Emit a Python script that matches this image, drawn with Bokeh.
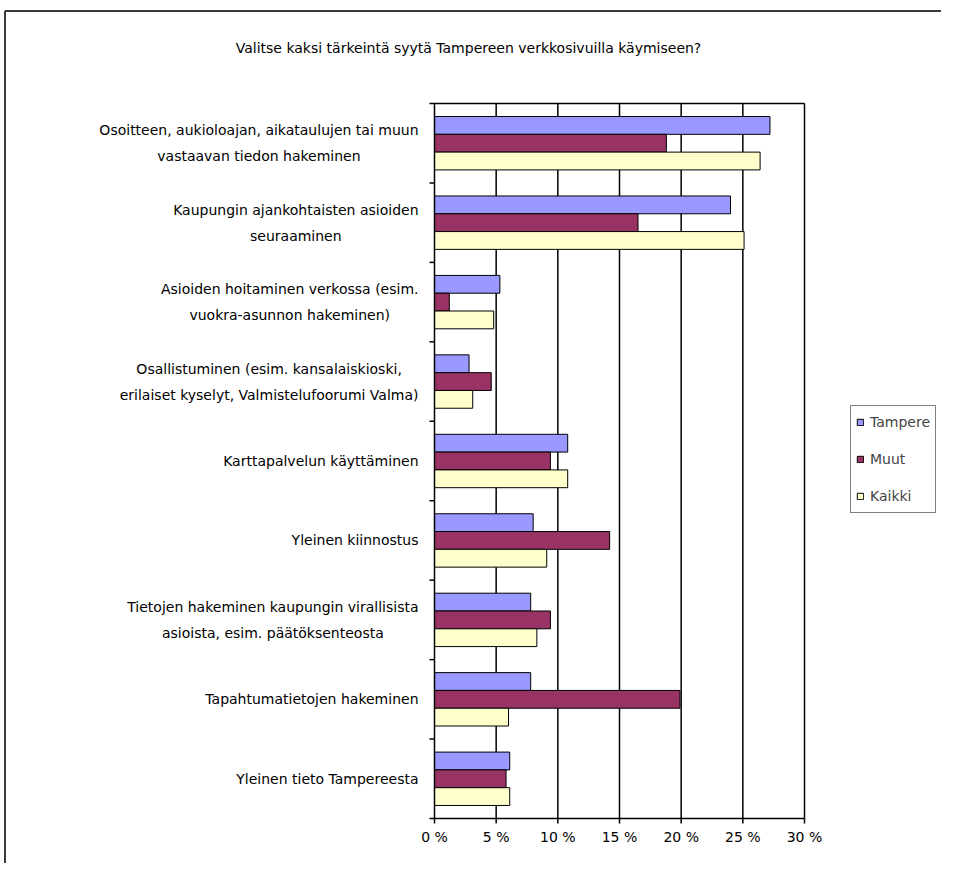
from bokeh.plotting import figure
from bokeh.models import Range1d, Legend, LegendItem
from bokeh.core.properties import value
from bokeh.embed import file_html
from bokeh.resources import INLINE

title_text = "Valitse kaksi tärkeintä syytä Tampereen verkkosivuilla käymiseen?"
categories = [
    "Osoitteen, aukioloajan, aikataulujen tai muun\nvastaavan tiedon hakeminen",
    "Kaupungin ajankohtaisten asioiden\nseuraaminen",
    "Asioiden hoitaminen verkossa (esim.\nvuokra-asunnon hakeminen)",
    "Osallistuminen (esim. kansalaiskioski,\nerilaiset kyselyt, Valmistelufoorumi Valma)",
    "Karttapalvelun käyttäminen",
    "Yleinen kiinnostus",
    "Tietojen hakeminen kaupungin virallisista\nasioista, esim. päätöksenteosta",
    "Tapahtumatietojen hakeminen",
    "Yleinen tieto Tampereesta",
]
series_names = ["Tampere", "Muut", "Kaikki"]
tampere = [27.2, 24.0, 5.3, 2.8, 10.8, 8.0, 7.8, 7.8, 6.1]
muut = [18.8, 16.5, 1.2, 4.6, 9.4, 14.2, 9.4, 19.9, 5.8]
kaikki = [26.4, 25.1, 4.8, 3.1, 10.8, 9.1, 8.3, 6.0, 6.1]
x_ticks = [0, 5, 10, 15, 20, 25, 30]
x_tick_labels = ["0 %", "5 %", "10 %", "15 %", "20 %", "25 %", "30 %"]

colors = ["#9999FF", "#993366", "#FFFFCC"]
FONT = value("DejaVu Sans")
FS = "14px"

# layout geometry (pixels)
W, H = 941, 863
PLOT_L, PLOT_R = 434, 804      # x of 0 % and 30 %
PLOT_T, PLOT_B = 103, 818      # top and bottom of plot area
XMAX = 30
n = len(categories)
ppx = (PLOT_R - PLOT_L) / XMAX          # px per percent
ppy = (PLOT_B - PLOT_T) / n             # px per category

x_start = -PLOT_L / ppx
x_end = (W - PLOT_L) / ppx
y_start = (PLOT_B - H) / ppy
y_end = PLOT_B / ppy

def dx(px):
    return px / ppx

def dy(px):
    return px / ppy

centers = [n - i - 0.5 for i in range(n)]
bar_h = 0.224
offsets = [bar_h, 0.0, -bar_h]

p = figure(width=W, height=H, output_backend="svg", toolbar_location=None,
           x_range=Range1d(x_start, x_end), y_range=Range1d(y_start, y_end),
           min_border=0)
p.xaxis.visible = False
p.yaxis.visible = False
p.grid.visible = False
p.outline_line_color = None
p.background_fill_color = "white"
p.border_fill_color = "white"

LC = "black"
LW = 1.5

# chart border (left and top)
bx = dx(4.5 - PLOT_L)
by = (PLOT_B - 10.5) / ppy
p.segment(x0=[bx, bx], y0=[y_start, by], x1=[bx, x_end], y1=[by, by],
          line_color="#3a3a3a", line_width=2)

# vertical grid lines
p.segment(x0=x_ticks[1:], y0=[0] * (len(x_ticks) - 1), x1=x_ticks[1:], y1=[n] * (len(x_ticks) - 1),
          line_color=LC, line_width=LW)
# top edge of plot area
p.segment(x0=[0], y0=[n], x1=[XMAX], y1=[n], line_color=LC, line_width=LW)

renderers = []
for vals, off, col in zip([tampere, muut, kaikki], offsets, colors):
    r = p.hbar(y=[c + off for c in centers], right=vals, left=0, height=bar_h,
               fill_color=col, line_color="black", line_width=1)
    renderers.append(r)

# axes lines
p.segment(x0=[0, 0], y0=[0, 0], x1=[XMAX, 0], y1=[0, n], line_color=LC, line_width=LW)
# x ticks
p.segment(x0=x_ticks, y0=[0] * len(x_ticks), x1=x_ticks, y1=[-dy(5)] * len(x_ticks),
          line_color=LC, line_width=LW)
# y ticks at category boundaries
bounds = list(range(n + 1))
p.segment(x0=[0] * len(bounds), y0=bounds, x1=[-dx(5)] * len(bounds), y1=bounds,
          line_color=LC, line_width=LW)

# x tick labels
p.text(x=x_ticks, y=[0] * len(x_ticks), text=x_tick_labels, y_offset=18,
       text_align="center", text_baseline="middle",
       text_font=FONT, text_font_size=FS, text_color="black")

# category labels
p.text(x=[0] * n, y=centers, text=categories, x_offset=-16, anchor="center_right",
       text_align="center", text_baseline="middle", text_line_height=1.62,
       text_font=FONT, text_font_size=FS, text_color="black")

# title
p.text(x=[0], y=[n], text=[title_text], x_offset=34, y_offset=-56,
       text_align="center", text_baseline="middle",
       text_font=FONT, text_font_size=FS, text_color="black")

legend = Legend(items=[LegendItem(label=nm, renderers=[r]) for nm, r in zip(series_names, renderers)],
                location=(850, H - 513), glyph_width=8, glyph_height=8,
                label_height=22, spacing=15, padding=5, margin=0, label_standoff=6,
                border_line_color="black", border_line_width=1.5,
                label_text_font="DejaVu Sans", label_text_font_size=FS,
                background_fill_color="white")
p.add_layout(legend, "center")

open("out.html", "w").write(file_html(p, INLINE))
